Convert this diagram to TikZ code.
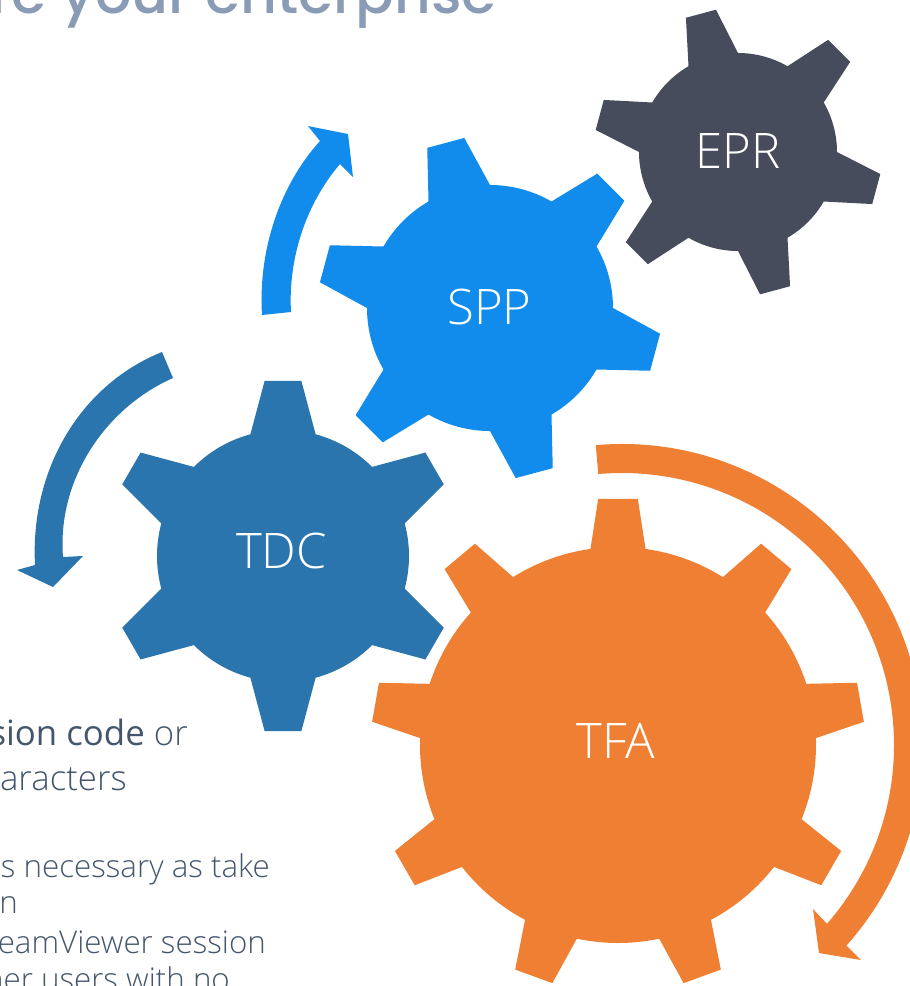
\documentclass[tikz,border=0pt]{standalone}
\usepackage{fontspec}
\setmainfont{Open Sans}
\newfontfamily\lightf{Open Sans Light}
\newfontfamily\titlef{Poppins Medium}
\definecolor{cTDC}{HTML}{2A75AE}
\definecolor{cSPP}{HTML}{118CED}
\definecolor{cEPR}{HTML}{474C5C}
\definecolor{cTFA}{HTML}{EF7F32}
\definecolor{cTitle}{HTML}{8A9BB5}
\definecolor{cBody}{HTML}{44566C}
\tikzset{
  gearlabel/.style={text=white,font=\lightf\fontsize{49}{49}\selectfont,inner sep=0pt},
  bodyline/.style={text=cBody,font=\lightf\fontsize{31.3}{31.3}\selectfont,inner sep=0pt,anchor=base east},
  leadline/.style={text=cBody,font=\lightf\fontsize{34.8}{34.8}\selectfont,inner sep=0pt,anchor=base east},
  titleline/.style={text=cTitle,font=\titlef\fontsize{57}{57}\selectfont,inner sep=0pt,anchor=base east}
}
% \gearshape{color}{cx}{cy}{body r}{tip r}{base half}{tip half}{first angle}{teeth}
\newcommand\gearshape[9]{%
  \fill[#1,shift={(#2,-#3)}] ({#8+#6}:#4pt)
  \foreach \i [evaluate=\i as \a using #8-(\i-1)*360/#9] in {1,...,#9}{
    -- ({\a+#7}:#5pt) -- ({\a-#7}:#5pt) -- ({\a-#6}:#4pt)
    arc[start angle={\a-#6},end angle={\a-360/#9+#6},radius=#4pt]
  } -- cycle;}
\begin{document}
\begin{tikzpicture}[x=1pt,y=1pt]
\useasboundingbox (0,-986) rectangle (910,0);
\clip (0,-986) rectangle (910,0);
% gears
\gearshape{cEPR}{738}{152}{99}{144}{15}{6.2}{105}{6}
\gearshape{cSPP}{490}{308}{123}{172}{15}{6.4}{105}{6}
\gearshape{cTDC}{283}{556}{126}{176}{15}{6}{90}{6}
\gearshape{cTFA}{618}{745}{198}{247}{8}{4.6}{90}{9}
% gear labels
\node[gearlabel] (EPR) at (738,-151) {EPR};
\node[gearlabel] (SPP) at (489.5,-307) {SPP};
\node[gearlabel] (TDC) at (281.5,-551) {TDC};
\node[gearlabel] (TFA) at (616,-741) {TFA};
% arrows
\fill[cTDC] (162,-352) .. controls (80,-385) and (30,-470) .. (35,-565)
  -- (17,-570) -- (53,-587) -- (83,-556) -- (63,-557)
  .. controls (57,-480) and (105,-408) .. (173,-378) -- cycle;
\fill[cSPP] (262,-315) .. controls (258,-250) and (280,-185) .. (320,-141)
  -- (308,-126) -- (348,-134) -- (353,-177) -- (340,-164)
  .. controls (305,-205) and (288,-260) .. (291,-312) -- cycle;
\fill[cTFA,shift={(622,-745)}] (95:301pt) arc[start angle=95,end angle=-41.8,radius=301pt]
  -- (861-622,-960+745) -- (819-622,-953+745) -- (813-622,-909+745)
  -- (-41.1:272pt)
  arc[start angle=-41.1,end angle=95,radius=272pt] -- cycle;
% texts
\node[titleline] (title) at (497,-13) {re your enterprise};
\node[leadline] (l1) at (188,-745) {{\rmfamily sion code} or};
\node[leadline] (l2) at (127,-790) {aracters};
\node[bodyline] (l3) at (270,-877) {s necessary as take};
\node[bodyline] (l4) at (18,-913) {n};
\node[bodyline] (l5) at (266,-953) {eamViewer session};
\node[bodyline] (l6) at (230,-990) {ner users with no};
\end{tikzpicture}
\end{document}
